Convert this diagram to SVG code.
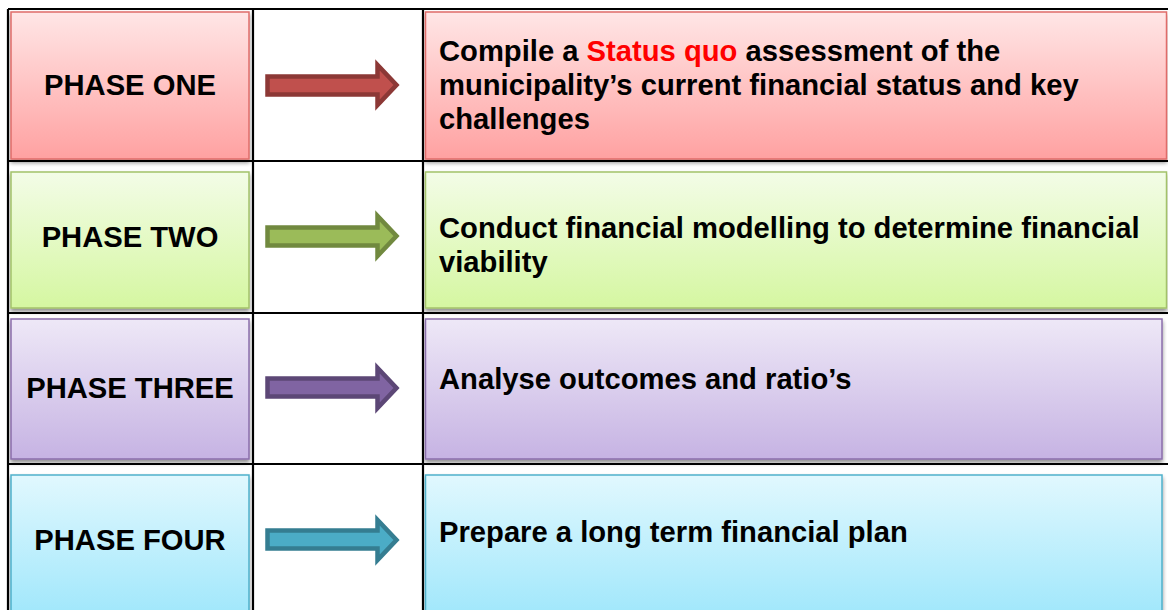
<svg xmlns="http://www.w3.org/2000/svg" width="1168" height="610" viewBox="0 0 1168 610">
<defs>
<linearGradient id="gRed" x1="0" y1="0" x2="0" y2="1"><stop offset="0" stop-color="#FFE6E6"/><stop offset="1" stop-color="#FFA1A1"/></linearGradient>
<linearGradient id="gGreen" x1="0" y1="0" x2="0" y2="1"><stop offset="0" stop-color="#F3FCE7"/><stop offset="1" stop-color="#D5F7A1"/></linearGradient>
<linearGradient id="gPurple" x1="0" y1="0" x2="0" y2="1"><stop offset="0" stop-color="#EEE8F7"/><stop offset="1" stop-color="#C6B3E3"/></linearGradient>
<linearGradient id="gBlue" x1="0" y1="0" x2="0" y2="1"><stop offset="0" stop-color="#E1F8FE"/><stop offset="1" stop-color="#9CE6FB"/></linearGradient>
<filter id="sh" x="-5%" y="-5%" width="110%" height="120%">
<feGaussianBlur in="SourceAlpha" stdDeviation="2"/>
<feOffset dx="0" dy="3" result="b"/>
<feComponentTransfer><feFuncA type="linear" slope="0.45"/></feComponentTransfer>
<feMerge><feMergeNode/><feMergeNode in="SourceGraphic"/></feMerge>
</filter>
</defs>
<style>
.t{font-family:"Liberation Sans",Arial,sans-serif;font-weight:bold;font-size:29.2px;fill:#000}
.c{text-anchor:middle}
.box{stroke-width:1.5;filter:url(#sh)}
.grid{stroke:#000;stroke-width:2.2;fill:none}
.arr{stroke-width:4.5;stroke-linejoin:miter}
</style>
<rect width="1168" height="610" fill="#fff"/>
<g id="grid">
<line class="grid" x1="8" y1="9" x2="1168" y2="9"/>
<line class="grid" x1="8" y1="9" x2="8" y2="610"/>
<line class="grid" x1="253" y1="9" x2="253" y2="610"/>
<line class="grid" x1="423" y1="9" x2="423" y2="610"/>
<line class="grid" x1="8" y1="161" x2="1168" y2="161"/>
<line class="grid" x1="8" y1="313" x2="1168" y2="313"/>
<line class="grid" x1="8" y1="464" x2="1168" y2="464"/>
</g>
<g id="phase-one">
<rect class="box" x="11" y="12" width="238" height="147" fill="url(#gRed)" stroke="#E06C6A"/>
<text class="t c" x="130" y="95">PHASE ONE</text>
</g>
<g id="step-one">
<rect class="box" x="425.5" y="12" width="741" height="147" fill="url(#gRed)" stroke="#E06C6A"/>
<text class="t" x="439" y="61">Compile a <tspan fill="#FF0000">Status quo</tspan> assessment of the</text>
<text class="t" x="439" y="95">municipality’s current financial status and key</text>
<text class="t" x="439" y="129">challenges</text>
</g>
<g id="phase-two">
<rect class="box" x="11" y="172" width="238" height="136" fill="url(#gGreen)" stroke="#A3C26A"/>
<text class="t c" x="130" y="247">PHASE TWO</text>
</g>
<g id="step-two">
<rect class="box" x="425.5" y="172" width="741" height="136" fill="url(#gGreen)" stroke="#A3C26A"/>
<text class="t" x="439" y="238">Conduct financial modelling to determine financial</text>
<text class="t" x="439" y="272">viability</text>
</g>
<g id="phase-three">
<rect class="box" x="11" y="319" width="238" height="140" fill="url(#gPurple)" stroke="#8A6EAB"/>
<text class="t c" x="130" y="398">PHASE THREE</text>
</g>
<g id="step-three">
<rect class="box" x="425.5" y="319" width="736.5" height="140" fill="url(#gPurple)" stroke="#8A6EAB"/>
<text class="t" x="439" y="389">Analyse outcomes and ratio’s</text>
</g>
<g id="phase-four">
<rect class="box" x="11" y="475" width="238" height="150" fill="url(#gBlue)" stroke="#4FB1CB"/>
<text class="t c" x="130" y="550">PHASE FOUR</text>
</g>
<g id="step-four">
<rect class="box" x="425.5" y="475" width="736.5" height="150" fill="url(#gBlue)" stroke="#4FB1CB"/>
<text class="t" x="439" y="542">Prepare a long term financial plan</text>
</g>
<g id="connectors">
<polygon class="arr" fill="#C0504D" stroke="#8C3836" points="267.5,76.5 377.5,76.5 377.5,65 396.5,85 377.5,105 377.5,94.5 267.5,94.5"/>
<polygon class="arr" fill="#9BBB59" stroke="#71893F" points="267.5,227.5 377.5,227.5 377.5,216 396.5,236 377.5,256 377.5,245.5 267.5,245.5"/>
<polygon class="arr" fill="#8064A2" stroke="#5C4776" points="267.5,378.5 377.5,378.5 377.5,368 396.5,388 377.5,408 377.5,396.5 267.5,396.5"/>
<polygon class="arr" fill="#4BACC6" stroke="#357D91" points="267.5,530.5 377.5,530.5 377.5,520 396.5,540 377.5,560 377.5,548.5 267.5,548.5"/>
</g>
</svg>
